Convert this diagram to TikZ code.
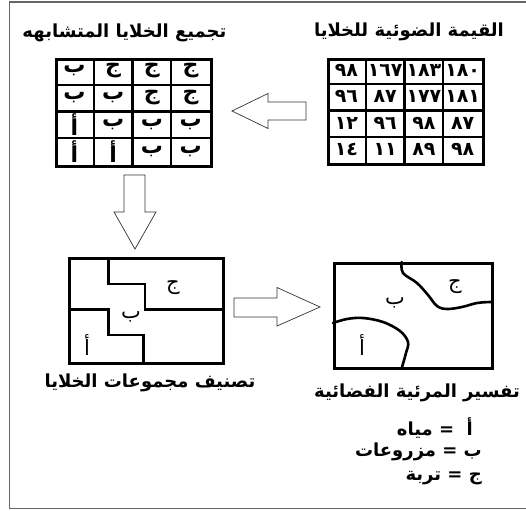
\documentclass[tikz,border=0pt]{standalone}
\usepackage{fontspec}
\newfontfamily\ar[Script=Arabic]{DejaVu Sans}
\TeXXeTstate=1
\begin{document}
\begin{tikzpicture}[x=1pt,y=-1pt,
  ttl/.style={font=\ar\bfseries\fontsize{18}{20}\selectfont, inner sep=0pt},
  cell/.style={font=\ar\bfseries\fontsize{19}{21}\selectfont, inner sep=0pt},
  lcell/.style={font=\ar\bfseries\fontsize{22}{24}\selectfont, inner sep=0pt},
  lbl/.style={font=\ar\fontsize{21}{23}\selectfont, inner sep=0pt},
  box/.style={draw, line width=3pt, inner sep=0pt, anchor=north west},
  gridline/.style={line width=2.4pt},
  wall/.style={line width=2.6pt, line join=miter},
  curve/.style={line width=2.6pt, line cap=round},
  blockarrow/.style={draw=black!80, line width=0.7pt, fill=white, line join=miter},
  frame/.style={draw=black!60, line width=1.4pt}]
\useasboundingbox (0,0) rectangle (526,510);
\draw[frame] (530,2) -- (9.5,2) -- (9.5,508.5) -- (530,508.5);

% ---- titles
\node[ttl] (t1) at (409,32) {\beginR القيمة الضوئية للخلايا\endR};
\node[ttl] (t2) at (124.5,33) {\beginR تجميع الخلايا المتشابهه\endR};
\node[ttl] (t3) at (150,383) {\beginR تصنيف مجموعات الخلايا\endR};
\node[ttl] (t4) at (417,393) {\beginR تفسير المرئية الفضائية\endR};

% ---- table of values
\node[box, minimum width=155pt, minimum height=105pt] (vals) at (327,58) {};
\foreach \i in {1,2,3} {
  \draw[gridline] (327+\i*38.75,58) -- (327+\i*38.75,163);
  \draw[gridline] (327,58+\i*26.25) -- (482,58+\i*26.25);
}
\foreach \r/\row in {0/{٩٨,١٦٧,١٨٣,١٨٠},1/{٩٦,٨٧,١٧٧,١٨١},2/{١٢,٩٦,٩٨,٨٧},3/{١٤,١١,٨٩,٩٨}} {
  \foreach \v [count=\c from 0] in \row {
    \node[cell] at (346.4+\c*38.75,70.5+\r*26.25) {\v};
  }
}

% ---- table of groups
\node[box, minimum width=155pt, minimum height=107pt] (grp) at (55,58) {};
\foreach \i in {1,2,3} {
  \draw[gridline] (55+\i*38.75,58) -- (55+\i*38.75,165);
  \draw[gridline] (55,58+\i*26.75) -- (210,58+\i*26.75);
}
\foreach \r/\row in {0/{ب,ج,ج,ج},1/{ب,ب,ج,ج},2/{أ,ب,ب,ب},3/{أ,أ,ب,ب}} {
  \foreach \v [count=\c from 0] in \row {
    \node[lcell] at (74.4+\c*38.75,71+\r*26.75) {\v};
  }
}

% ---- classification box
\node[box, minimum width=154pt, minimum height=105pt] (cls) at (68,257) {};
\draw[wall] (108.3,257) -- (108.3,284) -- (145,284) -- (145,309.3) -- (222,309.3);
\draw[wall] (68,309.3) -- (108.3,309.3) -- (108.3,335) -- (143.3,335) -- (143.3,362);
\node[lbl] (cj) at (173,288) {ج};
\node[lbl] (cb) at (131,317) {ب};
\node[lbl] (ca) at (87,345) {أ};

% ---- map box
\node[box, minimum width=158pt, minimum height=105pt] (map) at (333,262) {};
\draw[curve] plot[smooth, tension=0.6] coordinates {(401.7,262) (403,273) (417,283) (428,295) (437,306) (447,309) (462,307) (477,303) (491,302)};
\draw[curve] plot[smooth, tension=0.6] coordinates {(333,323) (347,319) (363,318) (383,322) (400,331) (408,342) (406,353) (402,367)};
\node[lbl] (mj) at (455,287) {ج};
\node[lbl] (mb) at (395,303) {ب};
\node[lbl] (ma) at (362,345) {أ};

% ---- legend
\node[ttl, anchor=east] (l1) at (473,428) {\beginR أ\ \ = مياه\endR};
\node[ttl, anchor=east] (l2) at (482,452) {\beginR ب = مزروعات\endR};
\node[ttl, anchor=east] (l3) at (482,478) {\beginR ج = تربة\endR};

% ---- block arrows
\draw[blockarrow] (232,111) -- (268,93.5) -- (268,102) -- (306,102) -- (306,120) -- (268,120) -- (268,128.5) -- cycle;
\draw[blockarrow] (124,175) -- (145,175) -- (145,212) -- (156,212) -- (135,249) -- (114,212) -- (124,212) -- cycle;
\draw[blockarrow] (234,298) -- (277,298) -- (277,287.5) -- (320,307) -- (277,326) -- (277,317) -- (234,317) -- cycle;
\end{tikzpicture}
\end{document}
